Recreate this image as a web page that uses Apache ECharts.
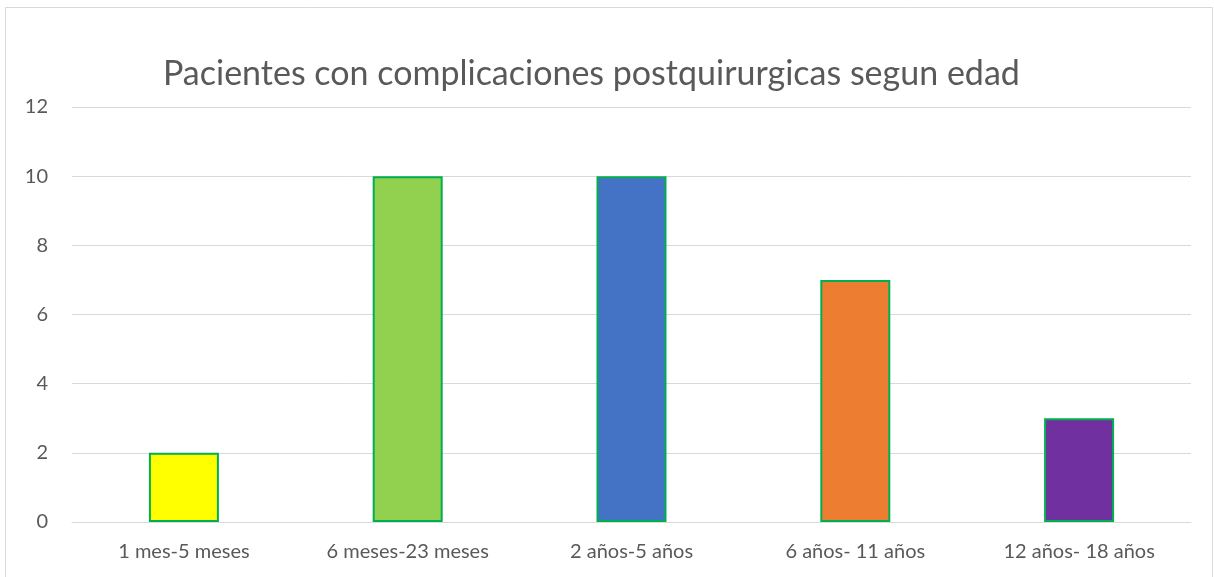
<!DOCTYPE html>
<html><head><meta charset="utf-8">
<script src="https://cdn.jsdelivr.net/npm/echarts@6/dist/echarts.min.js"></script>
<style>html,body{margin:0;padding:0;background:#fff}#c{width:1214px;height:577px}</style>
</head><body><div id="c"></div>
<script>
const titleText = "Pacientes con complicaciones postquirurgicas segun edad";
const categories = ["1 mes-5 meses", "6 meses-23 meses", "2 años-5 años", "6 años- 11 años", "12 años- 18 años"];
const values = [2, 10, 10, 7, 3];
const barColors = ["#FFFF00", "#92D050", "#4472C4", "#ED7D31", "#7030A0"];
const yTicks = { min: 0, max: 12, interval: 2 };

const chart = echarts.init(document.getElementById('c'), null, {renderer: 'canvas'});
const font = "Lato, 'Open Sans', sans-serif";
chart.setOption({
  animation: false,
  graphic: [{type: 'rect', shape: {x: 5.5, y: 7.5, width: 1207, height: 580}, style: {fill: 'none', stroke: '#d9d9d9', lineWidth: 1}, silent: true}],
  title: {text: titleText, left: 158, top: 52, textStyle: {fontFamily: font, fontSize: 34, fontWeight: 'normal', color: '#595959'}},
  grid: {left: 72, right: 23, top: 107, bottom: 55, containLabel: false},
  xAxis: {type: 'category', data: categories,
    axisLine: {lineStyle: {color: '#d9d9d9', width: 1}}, axisTick: {show: false},
    axisLabel: {fontFamily: font, fontSize: 20, color: '#595959', margin: 20}},
  yAxis: {type: 'value', min: yTicks.min, max: yTicks.max, interval: yTicks.interval,
    axisLine: {show: false}, axisTick: {show: false},
    splitLine: {lineStyle: {color: '#d9d9d9', width: 1}},
    axisLabel: {fontFamily: font, fontSize: 20, color: '#595959', margin: 24}},
  series: [{type: 'bar', barWidth: 70,
    data: values.map((v, i) => ({value: v, itemStyle: {color: barColors[i]}})),
    itemStyle: {borderColor: '#00B050', borderWidth: 2}}]
});
</script></body></html>
